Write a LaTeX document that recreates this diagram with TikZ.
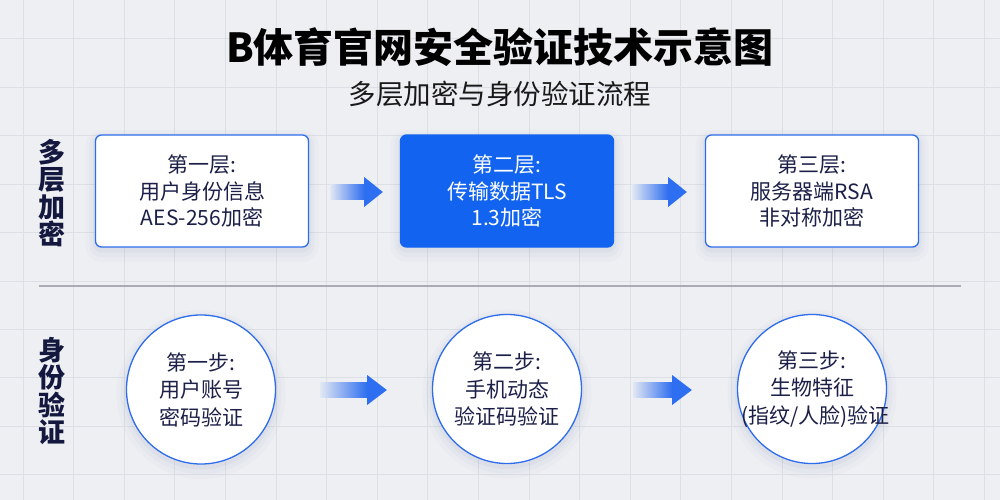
\documentclass[tikz,border=0pt]{standalone}
\usepackage{fontspec}
\setmainfont{Noto Sans CJK SC}
\usetikzlibrary{calc}
\definecolor{bg}{HTML}{EDEFF3}
\definecolor{gridc}{HTML}{DCDFE5}
\definecolor{navy}{HTML}{1C2048}
\definecolor{labc}{HTML}{14183F}
\definecolor{blueb}{HTML}{2D6CEB}
\definecolor{bluef}{HTML}{1264F0}
\definecolor{arrowc}{HTML}{2E6EF0}
\definecolor{sepc}{HTML}{A9ACB4}
\definecolor{shc}{HTML}{5A6E9A}
\newcommand{\flowarrow}[3]{%
  \shade[left color=arrowc!6!bg, right color=arrowc] ($#1+(0,-7.5)$) rectangle ($#2+(0,7.5)$);
  \fill[arrowc] ($#2+(0,-15)$) -- #3 -- ($#2+(0,15)$) -- cycle;}
\begin{document}
\begin{tikzpicture}[x=1pt,y=-1pt,
  softshadow/.style={
    preaction={draw=shc,line width=20pt,draw opacity=0.025,transform canvas={yshift=-5pt}},
    preaction={draw=shc,line width=12pt,draw opacity=0.035,transform canvas={yshift=-4pt}},
    preaction={draw=shc,line width=5pt,draw opacity=0.05,transform canvas={yshift=-3pt}}},
  layerbox/.style={softshadow, rectangle, rounded corners=6pt, draw=blueb, line width=1.3pt, fill=white,
    minimum width=213pt, minimum height=112pt, inner sep=0pt, align=center,
    font=\fontsize{21}{26.5}\selectfont, text=navy},
  stepcircle/.style={softshadow, circle, draw=blueb, line width=1.3pt, fill=white,
    minimum size=149pt, inner sep=0pt, align=center,
    font=\fontsize{21}{27.5}\selectfont, text=navy},
  sidelabel/.style={align=center, font=\fontsize{27}{27.5}\selectfont\bfseries, text=labc}
]
\useasboundingbox (0,0) rectangle (1000,500);
\fill[bg] (0,0) rectangle (1000,500);
% grid
\foreach \i in {0,...,19} {\draw[gridc, line width=1pt] (23+50.6*\i,0) -- (23+50.6*\i,500);}
\foreach \j in {0,...,9} {\draw[gridc, line width=1pt] (0,39+48.4*\j) -- (1000,39+48.4*\j);}

% titles
\node[font=\fontsize{40}{48}\selectfont\bfseries, text=black] (title) at (500,47) {B体育官网安全验证技术示意图};
\node[font=\fontsize{27.5}{32}\selectfont, text=black!90] (subtitle) at (500,94) {多层加密与身份验证流程};

% side labels
\node[sidelabel] (lab1) at (52,193) {多\\层\\加\\密};
\node[sidelabel] (lab2) at (52,391) {身\\份\\验\\证};

% separator
\coordinate (sepl) at (39,286);
\coordinate (sepr) at (961,286);
\draw[sepc, line width=1.5pt] (sepl) -- (sepr);

% layer boxes
\node[layerbox] (b1) at (202,191) {第一层:\\用户身份信息\\AES-256加密};
\node[layerbox, fill=bluef, draw=bluef, text=white] (b2) at (507,191) {第二层:\\传输数据TLS\\1.3加密};
\node[layerbox] (b3) at (812,191) {第三层:\\服务器端RSA\\非对称加密};

% step circles
\node[stepcircle] (c1) at (201,389.5) {第一步:\\用户账号\\密码验证};
\node[stepcircle] (c2) at (507,389) {第二步:\\手机动态\\验证码验证};
\node[stepcircle] (c3) at (812,389) {第三步:\\生物特征\\\makebox[0pt]{\hspace*{7pt}(指纹/人脸)验证}};

% arrows row 1
\coordinate (a1s) at ($(b1.east)+(21,1)$);
\coordinate (a1h) at ($(b1.east)+(55,1)$);
\coordinate (a1t) at ($(b2.west)+(-17,1)$);
\flowarrow{(a1s)}{(a1h)}{(a1t)}
\coordinate (a2s) at ($(b2.east)+(18,1)$);
\coordinate (a2h) at ($(b2.east)+(54,1)$);
\coordinate (a2t) at ($(b3.west)+(-18,1)$);
\flowarrow{(a2s)}{(a2h)}{(a2t)}
% arrows row 2
\coordinate (a3s) at ($(c1.east)+(44,0.5)$);
\coordinate (a3h) at ($(c1.east)+(91,0.5)$);
\coordinate (a3t) at ($(c2.west)+(-45,1)$);
\flowarrow{(a3s)}{(a3h)}{(a3t)}
\coordinate (a4s) at ($(c2.east)+(51,1)$);
\coordinate (a4h) at ($(c2.east)+(90,1)$);
\coordinate (a4t) at ($(c3.west)+(-45,1)$);
\flowarrow{(a4s)}{(a4h)}{(a4t)}
\end{tikzpicture}
\end{document}
